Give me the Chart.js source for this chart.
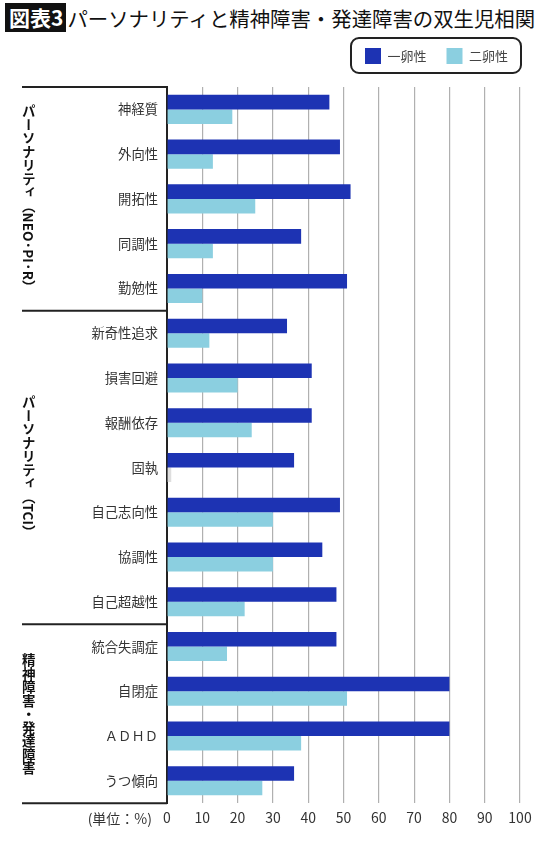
<!DOCTYPE html>
<html lang="ja">
<head>
<meta charset="utf-8">
<script src="https://cdn.jsdelivr.net/npm/chart.js@4.4.1/dist/chart.umd.min.js"></script>
<style>
  html, body { margin: 0; padding: 0; background: #fff; }
  body { width: 540px; height: 845px; position: relative; overflow: hidden;
         font-family: "Noto Sans CJK JP", "Noto Sans", sans-serif; }
  #wrap { position: absolute; left: 0; top: 0; width: 540px; height: 845px; }
  #title { position: absolute; left: 5px; top: 3px; height: 29px; display: flex; align-items: center;
           white-space: nowrap; color: #111; font-size: 20.4px; }
  #title .tag { background: #111; color: #fff; font-weight: bold; font-size: 21px; height: 29px; line-height: 29px;
                padding: 0 3px 0 4px; margin-right: 1px; }
  .grp { position: absolute; writing-mode: vertical-rl; text-orientation: mixed; font-weight: bold;
         font-size: 13.5px; color: #111; white-space: nowrap; transform: translate(-50%, -50%); line-height: 1; }
</style>
</head>
<body>
<div id="title"><span class="tag">図表3</span><span>パーソナリティと精神障害・発達障害の双生児相関</span></div>
<div id="wrap"><canvas id="c" width="540" height="845"></canvas></div>
<script>
const categories = ['神経質','外向性','開拓性','同調性','勤勉性','新奇性追求','損害回避','報酬依存','固執','自己志向性','協調性','自己超越性','統合失調症','自閉症','ＡＤＨＤ','うつ傾向'];
const seriesNames = ['一卵性', '二卵性'];
const monozygotic = [46, 49, 52, 38, 51, 34, 41, 41, 36, 49, 44, 48, 48, 80, 80, 36];
const dizygotic   = [18.5, 13, 25, 13, 10, 12, 20, 24, 1.2, 30, 30, 22, 17, 51, 38, 27];
const xTicks = [0, 10, 20, 30, 40, 50, 60, 70, 80, 90, 100];
const groupLabels = ['パーソナリティ（NEO·PI·R）', 'パーソナリティ（TCI）', '精神障害・発達障害'];
const groupFirst = [0, 5, 12];
const groupLast  = [4, 11, 15];
const unitLabel = '(単位：%)';

const FONT = '"Noto Sans CJK JP", "Noto Sans", sans-serif';
const DARK = '#1d33b3';
const LIGHT = '#8bcfe0';
const diColors = dizygotic.map((v, i) => categories[i] === '固執' ? '#dedede' : LIGHT);

const grpEls = groupLabels.map(t => {
  const d = document.createElement('div');
  d.className = 'grp';
  d.textContent = t;
  document.body.appendChild(d);
  return d;
});

const decor = {
  id: 'decor',
  afterLayout(chart) {
    if (chart.legend) chart.legend.right = chart.width - 12;
  },
  afterDraw(chart) {
    const ctx = chart.ctx;
    const y = chart.scales.y;
    const area = chart.chartArea;
    const boundary = (i) => (y.getPixelForValue(i) + y.getPixelForValue(i + 1)) / 2;
    const bounds = [area.top];
    for (let g = 0; g < groupFirst.length; g++) {
      bounds.push(groupLast[g] === categories.length - 1 ? area.bottom : boundary(groupLast[g]));
    }
    ctx.save();
    ctx.strokeStyle = '#222';
    ctx.lineWidth = 2;
    bounds.forEach(b => {
      ctx.beginPath();
      ctx.moveTo(22, b);
      ctx.lineTo(area.left, b);
      ctx.stroke();
    });
    for (let g = 0; g < groupFirst.length; g++) {
      const mid = (bounds[g] + bounds[g + 1]) / 2;
      grpEls[g].style.left = '28px';
      grpEls[g].style.top = mid + 'px';
    }
    ctx.fillStyle = '#333';
    ctx.font = '14px ' + FONT;
    ctx.textAlign = 'right';
    ctx.textBaseline = 'middle';
    const xs = chart.scales.x;
    const ty = xs.top + 6 + 9;
    ctx.fillText(unitLabel, area.left - 15, ty);
    const hb = chart.legend && chart.legend.legendHitBoxes;
    if (hb && hb.length) {
      const l = hb[0].left - 14;
      const last = hb[hb.length - 1];
      const r = last.left + last.width + 13;
      const t = hb[0].top - 10;
      const b = hb[0].top + hb[0].height + 9;
      ctx.strokeStyle = '#222';
      ctx.lineWidth = 2;
      ctx.beginPath();
      ctx.roundRect(l, t, r - l, b - t, 8);
      ctx.stroke();
    }
    ctx.restore();
  }
};

new Chart(document.getElementById('c'), {
  type: 'bar',
  data: {
    labels: categories,
    datasets: [
      { label: seriesNames[0], data: monozygotic, backgroundColor: DARK, xAxisID: 'x', yAxisID: 'y' },
      { label: seriesNames[1], data: dizygotic, backgroundColor: diColors, xAxisID: 'x', yAxisID: 'y' }
    ]
  },
  options: {
    indexAxis: 'y',
    responsive: false,
    animation: false,
    devicePixelRatio: 1,
    categoryPercentage: 0.65,
    barPercentage: 1.0,
    layout: { padding: { top: 28, right: 20, bottom: 13, left: 0 } },
    scales: {
      x: {
        type: 'linear', position: 'bottom', min: 0, max: 100,
        afterBuildTicks(s) { s.ticks = xTicks.map(v => ({ value: v })); },
        ticks: { color: '#333', font: { family: FONT, size: 14 }, padding: 6, maxRotation: 0 },
        grid: { color: '#b0b0b0', lineWidth: 1.2, drawTicks: false },
        border: { display: false }
      },
      top: {
        type: 'linear', position: 'top', axis: 'x', display: true,
        grid: { display: false }, ticks: { display: false }, border: { display: false },
        afterFit(s) { s.height = 13; }
      },
      y: {
        type: 'category', position: 'left',
        ticks: { color: '#333', font: { family: FONT, size: 13.3 }, padding: 9, autoSkip: false },
        grid: { display: false, drawTicks: false },
        border: { display: true, color: '#222', width: 2 },
        afterFit(s) { s.width = 167; }
      }
    },
    plugins: {
      legend: {
        position: 'top', align: 'end',
        labels: {
          boxWidth: 16, boxHeight: 16, padding: 20, color: '#444',
          font: { family: FONT, size: 13 },
          generateLabels(chart) {
            return chart.data.datasets.map((ds, i) => ({
              text: ds.label, fillStyle: i === 0 ? DARK : LIGHT, strokeStyle: 'rgba(0,0,0,0)',
              lineWidth: 0, hidden: false, datasetIndex: i, fontColor: '#444'
            }));
          }
        }
      },
      title: { display: false },
      tooltip: { enabled: false }
    }
  },
  plugins: [decor]
});
</script>
</body>
</html>
